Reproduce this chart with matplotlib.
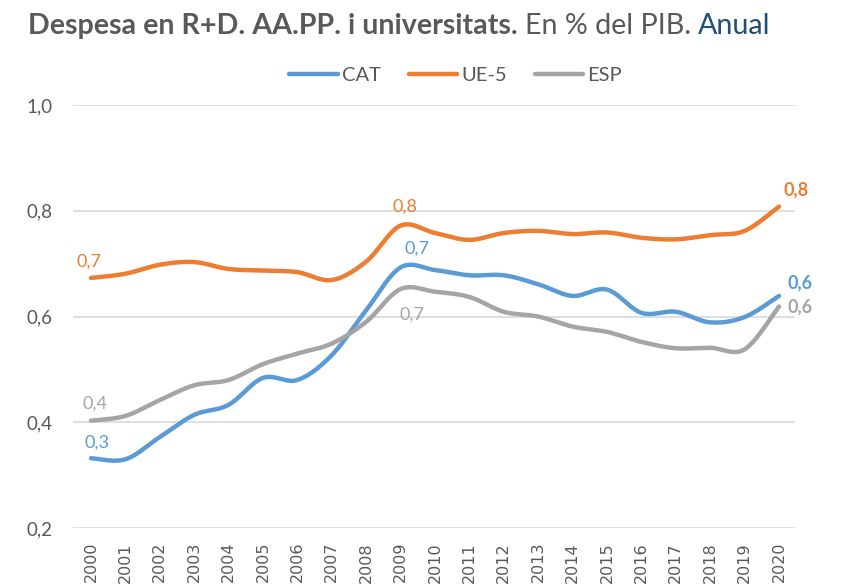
import numpy as np
import matplotlib.pyplot as plt

plt.rcParams['font.family'] = ['Lato', 'DejaVu Sans']

years = list(range(2000, 2021))
cat = [0.332, 0.330, 0.372, 0.414, 0.433, 0.484, 0.480, 0.527, 0.612, 0.693,
       0.688, 0.678, 0.678, 0.661, 0.639, 0.651, 0.607, 0.609, 0.589, 0.599, 0.639]
ue5 = [0.673, 0.681, 0.698, 0.703, 0.690, 0.687, 0.684, 0.669, 0.704, 0.772,
       0.758, 0.745, 0.758, 0.762, 0.756, 0.759, 0.749, 0.746, 0.754, 0.762, 0.808]
esp = [0.403, 0.412, 0.442, 0.470, 0.480, 0.510, 0.530, 0.549, 0.590, 0.652,
       0.647, 0.637, 0.609, 0.600, 0.581, 0.571, 0.552, 0.540, 0.541, 0.538, 0.619]

# label positions: (index, dx px, dy px, bold)
labels_cat = [(0, 6, 16, False), (9, 16, 19, False), (20, 21, 13, True)]
labels_ue5 = [(0, -2, 16, False), (9, 4, 19, False), (20, 17, 17, True)]
labels_esp = [(0, 4, 17, False), (9, 11, -26, False), (20, 21, 0, True)]

C_CAT = '#5B9BD5'
C_UE = '#ED7D31'
C_ESP = '#A5A5A5'
GREY = '#595959'


def smooth(x, y, n=24):
    # Excel-like smoothed line (Bezier with Catmull-Rom control points)
    x = np.asarray(x, float)
    y = np.asarray(y, float)
    px = np.concatenate([[x[0]], x, [x[-1]]])
    py = np.concatenate([[y[0]], y, [y[-1]]])
    xs, ys = [], []
    t = np.linspace(0, 1, n)
    for i in range(1, len(px) - 2):
        p0 = np.array([px[i], py[i]])
        p3 = np.array([px[i + 1], py[i + 1]])
        p1 = p0 + (np.array([px[i + 1], py[i + 1]]) - np.array([px[i - 1], py[i - 1]])) / 6
        p2 = p3 - (np.array([px[i + 2], py[i + 2]]) - np.array([px[i], py[i]])) / 6
        b = ((1 - t) ** 3)[:, None] * p0 + (3 * (1 - t) ** 2 * t)[:, None] * p1 \
            + (3 * (1 - t) * t ** 2)[:, None] * p2 + (t ** 3)[:, None] * p3
        xs.extend(b[:, 0])
        ys.extend(b[:, 1])
    return xs, ys


fig = plt.figure(figsize=(8.6, 5.87), dpi=100)
ax = fig.add_axes([73 / 860, 0.1005, 722 / 860, 0.7205])

for vals, col, name, labs in [(cat, C_CAT, 'CAT', labels_cat),
                              (ue5, C_UE, 'UE-5', labels_ue5),
                              (esp, C_ESP, 'ESP', labels_esp)]:
    sx, sy = smooth(years, vals)
    ax.plot(sx, sy, color=col, lw=3.2, label=name, solid_capstyle='round', zorder=3)
    for i, dx, dy, bold in labs:
        txt = f'{vals[i]:.1f}'.replace('.', ',')
        ax.annotate(txt, (years[i], vals[i]), xytext=(dx, dy), textcoords='offset pixels',
                    ha='center', va='center', color=col, fontsize=13,
                    fontweight='bold' if bold else 'normal')

ax.set_xlim(1999.477, 2020.465)
ax.set_ylim(0.2, 1.0)
ax.set_yticks([0.2, 0.4, 0.6, 0.8, 1.0])
ax.set_yticklabels(['0,2', '0,4', '0,6', '0,8', '1,0'])
ax.set_xticks(years)
ax.set_xticklabels([str(y) for y in years], rotation=90, family='DejaVu Sans')
ax.tick_params(axis='both', length=0, colors=GREY)
ax.tick_params(axis='y', labelsize=13.5, pad=15)
ax.tick_params(axis='x', labelsize=11.5, pad=10)
ax.grid(axis='y', color='#D9D9D9', lw=1.2)
ax.set_axisbelow(True)
for s in ax.spines.values():
    s.set_visible(False)

leg = ax.legend(loc='center', bbox_to_anchor=(0.530, 1.07), ncol=3, frameon=False,
                fontsize=14.5, handlelength=2.4, columnspacing=1.4, handletextpad=0.2)
for t in leg.get_texts():
    t.set_color(GREY)

# title in three styled pieces
fig.canvas.draw()
r = fig.canvas.get_renderer()
x0 = 28 / 860
yt = 1 - 26 / 587
parts = [('Despesa en R+D. AA.PP. i universitats. ', 'bold', GREY),
         ('En % del PIB. ', 'normal', GREY),
         ('Anual', 'normal', '#1F4E79')]
for s, w, c in parts:
    t = fig.text(x0, yt, s, fontsize=20.6, fontweight=w, color=c, va='center', ha='left')
    bb = t.get_window_extent(renderer=r)
    x0 += bb.width / fig.bbox.width

fig.savefig('out.png', dpi=100)
